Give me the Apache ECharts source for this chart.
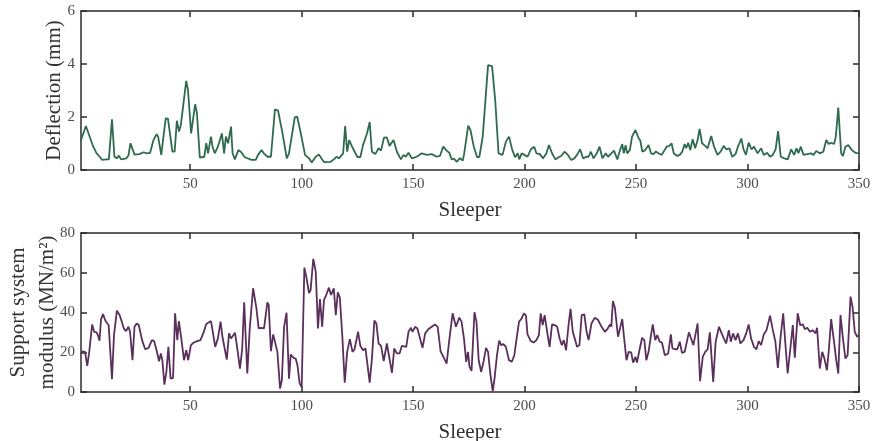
<!DOCTYPE html>
<html>
<head>
<meta charset="utf-8">
<script src="https://cdn.jsdelivr.net/npm/echarts@6/dist/echarts.min.js"></script>
<style>
  html, body { margin: 0; padding: 0; background: #fff; }
  #main { width: 872px; height: 441px; }
</style>
</head>
<body>
<div id="main"></div>
<script>
// tick positions on the sleeper axis
var xTicks = [50, 100, 150, 200, 250, 300, 350];

// deflection (mm) read at each vertex of the top trace
var deflSleeper = [1,3.2,6.5,8,9.4,10.5,12.4,13.5,14.9,16,
  17,18,19,21.3,22.3,23.2,24,25,27.2,29,
  30.5,32,33.5,34.9,35.6,37,39,40,42,43,
  44,45,45.8,48.2,49,50.4,52.2,53,54.3,55,
  56.3,57.2,58,59.3,60,61,62.4,64.2,65.2,66,
  67,68.3,69,70,71.6,72.7,74.5,77.5,79.4,80.4,
  82,83,84.7,86.2,88,89.4,91.4,93.3,94.3,96.9,
  98,99.6,101.5,103.3,104.5,106.3,107.7,108.8,110,113,
  114.7,115.6,116.7,118.6,119.5,120.4,121.3,122.6,124.9,126.3,
  127.5,129.3,130.5,131.5,133,134.5,135.6,136.9,138.2,139.4,
  141.2,142.7,144.5,145.7,146.7,147.9,149.4,151.6,153.9,156.1,
  158.3,160.6,162,163.5,165,166.2,167.3,168.3,169.5,171,
  172.2,172.8,174.7,175.7,177.2,178.7,179.7,181.2,183.6,185.4,
  186.8,188.3,190.1,191.6,193,194.5,195.7,196.9,197.6,198.7,
  199.9,201.3,202.8,204.3,205.3,206.8,208.3,209.8,210.9,212.3,
  213.8,215.2,216.4,217.9,219.4,220.9,222.3,223.5,224.9,226.2,
  227.7,228.7,229.7,230.9,232.4,233.6,234.9,236.4,237.4,238.9,
  240.1,241.6,242.8,243.8,244.5,245.3,246,247.2,248.2,249.7,
  251.2,251.9,252.8,254.1,255.6,256.7,257.8,258.9,260,261.5,
  262.2,263.7,264.9,265.9,266.9,268.4,269.6,270.7,271.8,272.5,
  273.4,274.3,275.4,276.5,277.6,278.5,279.6,281,282.1,283.7,
  285,286.5,287.9,289.3,290.4,291.9,293.1,294.6,295.7,297.2,
  298.2,299.3,300.5,301.8,302.9,304.5,306.1,307.3,308.8,310.1,
  311.3,312.6,313.7,314.9,316.5,318,319.6,320.9,322,322.8,
  323.9,325.1,326.7,328.4,329.6,330.8,332.4,334,335.3,336.4,
  337.5,338.8,339.6,340.7,342,342.8,343.9,345.2,346.8,348.4,
  350];
var deflection = [1.13,1.66,0.88,0.63,0.50,0.38,0.40,0.40,1.91,0.50,
  0.44,0.54,0.40,0.44,0.55,1.01,0.98,0.58,0.60,0.67,
  0.63,0.65,1.13,1.35,1.26,0.57,1.95,1.94,0.69,0.69,
  1.86,1.45,1.70,3.36,3.02,1.38,2.48,2.14,0.47,0.48,
  0.50,1.01,0.63,1.26,0.88,0.63,0.88,1.38,0.63,1.26,
  1.01,1.64,0.63,0.40,0.75,0.69,0.48,0.38,0.38,0.57,
  0.75,0.63,0.50,0.50,2.29,2.24,1.38,0.44,0.63,1.99,
  2.01,1.38,0.57,0.44,0.28,0.50,0.59,0.44,0.30,0.31,
  0.42,0.50,0.44,0.63,1.66,0.69,1.13,0.88,0.50,0.48,
  0.94,1.38,1.81,0.69,0.60,0.82,0.73,1.22,1.23,0.91,
  1.13,0.69,0.40,0.57,0.50,0.65,0.44,0.50,0.63,0.57,
  0.60,0.50,0.53,0.88,0.73,0.65,0.40,0.43,0.31,0.45,
  0.35,0.57,1.67,1.51,0.88,0.48,0.50,1.26,3.96,3.92,
  2.64,0.63,0.57,1.07,1.26,0.75,0.48,0.63,0.40,0.63,
  0.57,0.50,0.78,0.88,0.63,0.60,0.44,0.63,0.94,0.63,
  0.40,0.48,0.53,0.69,0.57,0.38,0.44,0.57,0.78,0.44,
  0.50,0.50,0.69,0.44,0.63,0.88,0.44,0.63,0.50,0.63,
  0.73,0.40,0.75,0.98,0.63,0.94,0.63,0.75,1.26,1.51,
  1.19,1.11,0.69,0.75,0.94,0.63,0.60,0.70,0.63,0.57,
  0.57,0.88,0.91,1.01,0.63,0.53,0.57,0.69,0.98,0.82,
  1.03,0.75,1.16,0.82,1.13,1.55,1.01,0.91,0.82,1.28,
  0.88,0.57,0.69,0.91,0.78,0.82,0.50,0.60,0.88,1.19,
  0.78,0.57,1.03,0.78,0.88,0.63,0.82,0.57,0.65,0.50,
  0.57,0.78,1.47,0.50,0.44,0.40,0.78,0.57,0.82,0.63,
  0.88,0.57,0.60,0.63,0.57,0.72,0.63,0.69,1.13,0.98,
  1.03,0.98,1.26,2.36,0.63,0.53,0.88,0.94,0.75,0.65,
  0.63];

// support system modulus (MN/m2) read at each vertex of the bottom trace
var modSleeper = [1,1.7,2.8,3.8,4.7,6,6.9,8,8.7,9.3,
  10,10.9,11.8,12.5,13.4,14.9,15.8,17.1,18.3,19.3,
  20.2,21.2,22.3,23,24.1,25,26,26.9,28.4,29.8,
  31.3,32.8,33.8,34.9,36,36.8,37.5,38.4,39.3,40.2,
  41.2,42.3,43.2,44.2,44.9,46,47.2,48.2,49.1,50.3,
  51.6,53.1,54.6,56,57.2,57.9,59.3,60,61.2,62.4,
  63.6,64.5,65.3,66.4,67.4,68.3,70.1,71.1,72.3,73.3,
  74.2,75.6,76.7,78.2,79.7,80.7,81.9,83.1,83.7,84.6,
  85.2,86.2,87.2,87.9,89.1,90.3,91.1,92.1,93.2,94.3,
  95.1,96.3,97.3,98.1,99.1,100,101.2,102.2,103.3,104,
  105.2,106.3,107.3,108.2,109.2,110,111,112.2,113.2,114.4,
  115.3,116.2,117.1,118.2,119.3,120.4,121.6,122.8,123.7,125.3,
  126.3,127.5,128.6,130.5,131.5,132.6,133.5,134.5,135.6,136.8,
  138.2,139,140.5,141.5,142.7,143.9,144.9,145.7,146.9,147.9,
  149,149.7,150.9,151.9,153.1,154.2,155.4,156.8,158.3,159.8,
  161,162.3,163.8,165,166.2,167.7,169.2,170.7,171.7,172.8,
  173.8,174.6,175.3,176.2,176.8,177.5,178.4,179.4,180.5,181.7,
  182.7,183.6,184.6,185.7,186.5,187.6,188.6,189.5,190.5,191.6,
  193,194.2,195.4,196.4,197.5,198.4,199.7,200.6,201.3,202.8,
  204.1,205.3,206.4,207.2,208.1,209,210.1,211.2,212.3,213.5,
  214.6,215.7,216.7,217.6,218.6,219.7,220.6,221.6,222.7,223.5,
  224.6,225.6,226.8,227.8,228.7,230,231.5,233,234.5,236,
  237.1,238.3,238.9,239.6,240.5,241.9,242.8,243.8,244.8,245.7,
  246.7,247.8,248.7,249.7,250.4,251.5,252.7,253.7,254.6,255.6,
  256.7,257.5,258.6,259.5,260.6,261.6,262.9,264.4,265.6,266.3,
  267.4,268.5,269.6,270.6,271.8,272.5,273.7,274.7,275.7,277.6,
  278.7,279.9,281,282.1,283.1,284.6,285.7,287.2,288.4,289.4,
  290.4,291.6,292.5,293.5,294.6,295.7,296.8,298.2,299.4,300.5,
  301.6,302.9,304,305,306.1,307.3,308.5,310.1,311.2,312.5,
  313.6,314.9,316,316.9,318,319.2,320.3,321.2,322.5,323.6,
  324.8,325.7,326.8,328,329.2,330.5,331.2,332.4,333.5,334.5,
  335.6,336.4,337.5,338.8,339.6,340.7,341.7,342.8,343.9,344.9,
  346.2,347.1,348.1,349.2,350];
var modulus = [19.4,20.5,20.2,13.1,20.2,34.0,30.3,30.0,28.3,25.8,
  36.7,39.2,36.2,35.0,33.7,6.4,28.6,40.9,38.7,35.4,
  32.0,30.6,32.8,30.3,16.0,32.8,34.5,33.7,26.1,21.5,
  22.2,26.1,25.6,21.0,15.5,19.4,16.0,3.7,10.1,22.7,
  6.7,7.1,39.6,26.1,35.7,26.9,16.0,21.0,16.0,23.6,
  24.9,25.6,26.1,30.0,34.2,33.3,35.7,31.1,22.7,26.9,
  35.4,27.4,26.9,16.3,29.5,26.9,29.8,21.9,11.8,21.5,
  45.1,9.3,32.0,52.2,42.1,32.0,32.3,32.0,31.6,45.1,
  43.8,20.5,29.0,28.6,20.2,1.7,5.9,32.8,39.9,6.7,
  18.9,17.2,16.8,13.5,4.2,2.5,62.6,57.2,49.7,51.3,
  67.0,60.6,32.0,46.8,32.8,46.3,48.8,52.5,48.8,52.2,
  38.7,50.2,47.5,28.6,4.7,20.2,26.6,20.2,21.5,30.3,
  23.2,21.0,21.9,4.7,16.8,35.9,34.5,24.4,23.2,15.5,
  24.4,23.6,9.6,21.9,19.4,19.4,23.2,22.7,22.7,30.3,
  32.3,30.3,32.8,32.0,26.9,22.2,29.5,31.6,32.8,34.0,
  32.8,20.5,17.2,14.3,26.1,39.6,32.8,37.4,35.4,26.9,
  15.2,20.2,12.6,10.6,11.4,40.1,35.4,16.0,10.1,16.0,
  22.2,20.2,9.3,0.5,6.7,18.5,25.8,23.6,24.1,22.7,
  16.0,15.2,18.5,26.9,35.4,36.5,39.6,38.4,29.0,25.6,
  24.9,26.1,28.6,39.6,33.7,38.7,30.3,22.7,34.0,33.7,
  32.8,26.9,23.6,26.1,21.0,33.7,41.8,30.3,26.1,22.7,
  23.6,38.7,39.1,30.3,26.1,34.5,37.4,36.2,32.8,30.3,
  31.6,34.0,32.8,45.8,42.4,27.8,32.0,36.7,25.3,16.0,
  20.2,19.9,14.8,17.7,14.8,21.0,27.3,26.1,16.0,20.2,
  28.6,34.0,26.1,28.6,25.3,24.9,18.5,19.4,29.0,21.9,
  21.5,21.5,25.3,19.7,20.2,19.7,30.0,26.9,23.6,34.5,
  5.4,17.7,20.2,21.5,30.0,5.1,25.3,32.8,29.5,26.9,
  24.4,31.1,25.3,29.5,26.1,29.5,24.4,26.1,29.5,34.0,
  26.9,22.7,21.5,25.6,23.6,29.1,31.1,38.4,32.0,25.3,
  12.1,28.6,39.6,25.3,9.3,21.9,33.7,17.2,39.6,33.7,
  34.0,31.6,32.3,30.3,31.1,29.5,32.3,11.8,20.2,16.8,
  10.9,20.2,36.7,25.3,17.7,9.3,38.7,26.9,16.8,18.5,
  48.0,42.9,30.3,27.8,28.6];

var FONT = 'Liberation Serif';
var AXIS_COLOR = '#2b2b2b';

function zip(xs, ys) {
  var out = [];
  var n = Math.min(xs.length, ys.length);
  for (var i = 0; i < n; i++) out.push([xs[i], ys[i]]);
  return out;
}

// sleeper axis, bottom one carries labels, top one is just the box edge with ticks
function sleeperAxis(gridIndex, onTop) {
  return {
    type: 'value',
    gridIndex: gridIndex,
    position: onTop ? 'top' : 'bottom',
    min: 1,
    max: 350,
    name: onTop ? '' : 'Sleeper',
    nameLocation: 'middle',
    nameGap: 28,
    nameMoveOverlap: false,
    nameTextStyle: { fontFamily: FONT, fontSize: 21, color: '#333', lineHeight: 24 },
    axisLine: { show: true, onZero: false, lineStyle: { color: AXIS_COLOR, width: 1.5 } },
    axisTick: { show: true, inside: true, length: 6, customValues: xTicks,
      lineStyle: { color: AXIS_COLOR, width: 1.5 } },
    axisLabel: { show: !onTop, customValues: xTicks, margin: 7,
      fontFamily: FONT, fontSize: 15, color: '#4d4d4d' },
    splitLine: { show: false }
  };
}

function valueAxis(gridIndex, onRight, max, interval, name, gap) {
  return {
    type: 'value',
    gridIndex: gridIndex,
    position: onRight ? 'right' : 'left',
    min: 0,
    max: max,
    interval: interval,
    name: onRight ? '' : name,
    nameLocation: 'middle',
    nameGap: gap,
    nameMoveOverlap: false,
    nameTextStyle: { fontFamily: FONT, fontSize: 21, color: '#333', lineHeight: 29 },
    axisLine: { show: true, onZero: false, lineStyle: { color: AXIS_COLOR, width: 1.5 } },
    axisTick: { show: true, inside: true, length: 6,
      lineStyle: { color: AXIS_COLOR, width: 1.5 } },
    axisLabel: { show: !onRight, margin: 6,
      fontFamily: FONT, fontSize: 15, color: '#4d4d4d' },
    splitLine: { show: false }
  };
}

var chart = echarts.init(document.getElementById('main'), null, { renderer: 'canvas' });

var option = {
  backgroundColor: '#fff',
  animation: false,
  grid: [
    { left: 81, right: 13, top: 11, height: 159, outerBoundsMode: 'none', containLabel: false },
    { left: 81, right: 13, top: 233, height: 159, outerBoundsMode: 'none', containLabel: false }
  ],
  xAxis: [
    sleeperAxis(0, false),
    sleeperAxis(0, true),
    sleeperAxis(1, false),
    sleeperAxis(1, true)
  ],
  yAxis: [
    valueAxis(0, false, 6, 2, 'Deflection (mm)', 12),
    valueAxis(0, true, 6, 2, '', 0),
    valueAxis(1, false, 80, 20, 'Support system\nmodulus (MN/m²)', 19),
    valueAxis(1, true, 80, 20, '', 0)
  ],
  series: [
    {
      name: 'Deflection',
      type: 'line',
      xAxisIndex: 0,
      yAxisIndex: 0,
      data: zip(deflSleeper, deflection),
      showSymbol: false,
      lineStyle: { color: '#2e6b4e', width: 1.8 }
    },
    {
      name: 'Modulus',
      type: 'line',
      xAxisIndex: 2,
      yAxisIndex: 2,
      data: zip(modSleeper, modulus),
      showSymbol: false,
      lineStyle: { color: '#5a2f5c', width: 1.8 }
    }
  ]
};

chart.setOption(option);
</script>
</body>
</html>
